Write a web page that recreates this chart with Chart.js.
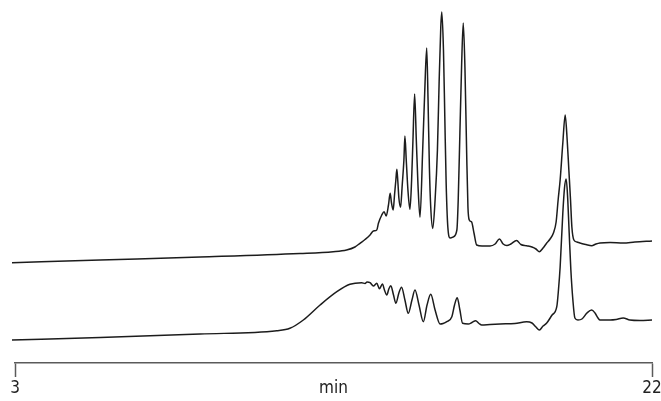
<!DOCTYPE html>
<html>
<head>
<meta charset="utf-8">
<script src="https://cdn.jsdelivr.net/npm/chart.js@4/dist/chart.umd.min.js"></script>
<style>
html,body{margin:0;padding:0;background:#fff;}
#wrap{width:661px;height:401px;position:relative;}
</style>
</head>
<body>
<div id="wrap"><canvas id="c"></canvas></div>
<script>
// Retention time (min) and detector signal (arbitrary units)
const topTime = [2.91,5.54,8.52,11.50,12.49,12.89,13.14,13.29,13.44,13.59,13.69,13.79,13.84,13.94,14.01,14.07,14.14,14.19,14.23,14.28,14.32,14.36,14.39,14.42,14.45,14.50,14.55,14.60,14.63,14.67,14.72,14.78,14.83,14.87,14.92,14.97,15.02,15.08,15.16,15.22,15.28,15.32,15.36,15.40,15.46,15.53,15.60,15.65,15.70,15.73,15.78,15.82,15.86,15.91,15.98,16.07,16.18,16.22,16.27,16.32,16.37,16.42,16.47,16.51,16.55,16.62,16.69,16.77,16.93,17.17,17.32,17.45,17.56,17.67,17.79,17.96,18.09,18.26,18.42,18.54,18.64,18.75,18.86,18.96,19.06,19.14,19.20,19.26,19.34,19.41,19.47,19.52,19.57,19.61,19.67,19.76,19.85,20.03,20.20,20.33,20.45,20.75,21.14,21.49,22.00];
const topSignal = [100.3,103,106,109.5,111.3,113,116,119.7,123.5,128,132,133,139.7,148,151.3,147,158,169.7,160,153,168,183,193.7,181,165,155.7,178,203,227,203,173,153.7,183,223,269,223,178,145.7,213,270,315,263,196,156,134.5,163,213,280,336,351,313,246,180,136,125,126,133,163,230,296,340,296,213,156,143,141,130,118,117,117,119,124,119,117.5,119,122.5,118.5,117.3,116,114,111.3,115,120,124,130,141,163,183,220,248,223,193,163,136,123,121,120,118.5,117.3,119,120,120.5,120,121,122];

const bottomTime = [2.91,5.54,8.52,10.81,11.20,11.60,12.10,12.60,12.99,13.34,13.44,13.50,13.59,13.69,13.79,13.87,13.96,14.02,14.09,14.15,14.21,14.29,14.36,14.45,14.53,14.63,14.73,14.84,14.93,15.05,15.18,15.29,15.40,15.53,15.68,15.77,15.88,16.03,16.11,16.19,16.27,16.35,16.52,16.63,16.74,16.84,16.92,17.17,17.47,17.91,18.26,18.42,18.54,18.64,18.75,18.86,19.02,19.16,19.21,19.26,19.34,19.39,19.44,19.48,19.53,19.58,19.64,19.70,19.79,19.91,20.06,20.20,20.30,20.39,20.45,20.75,20.93,21.14,21.34,21.64,22.00];
const bottomSignal = [23,25.5,29,32.3,34.7,43,58,71.3,78.7,80.3,79.5,81,80.3,77,79.7,74.3,79,73,68,74,77.3,68,59.7,70,75.7,63,49.7,63,73,58,41.3,58,68.7,53,39,39.5,41.3,46.3,58,65.3,53,39.7,39,40.5,42.3,39.5,38,38.5,39,39.5,41.3,40,36,33,37,40,48,56.3,73,96,150,175,184,168,130,93,63,45,43,44,50,53,50,45,43,43,43.5,45,43,42.5,43];

const axisTickValues = [3, 12.5, 22];
const axisTickLabels = ['3', 'min', '22'];

const toPoints = (xs, ys) => xs.map((x, i) => ({x: x, y: ys[i]}));
const FONT = "'Liberation Sans Narrow', 'Arial Narrow', 'DejaVu Sans Condensed', 'Roboto', sans-serif";

new Chart(document.getElementById('c'), {
  type: 'line',
  data: {
    datasets: [
      {data: toPoints(topTime, topSignal), borderColor: '#1c1c1c', borderWidth: 1.5, pointRadius: 0, cubicInterpolationMode: 'monotone', clip: false, fill: false},
      {data: toPoints(bottomTime, bottomSignal), borderColor: '#1c1c1c', borderWidth: 1.5, pointRadius: 0, cubicInterpolationMode: 'monotone', clip: false, fill: false}
    ]
  },
  options: {
    responsive: true,
    maintainAspectRatio: false,
    animation: false,
    events: [],
    layout: {padding: {top: 0, left: 15, right: 9, bottom: 0}},
    plugins: {legend: {display: false}, tooltip: {enabled: false}},
    scales: {
      x: {
        type: 'linear', min: 3, max: 22,
        afterBuildTicks: (s) => { s.ticks = axisTickValues.map(v => ({value: v})); },
        afterFit: (s) => { s.paddingLeft = 0; s.paddingRight = 0; },
        border: {display: true, color: '#5a5a5a', width: 1.5},
        grid: {
          drawOnChartArea: false, drawTicks: true, tickLength: 14, tickWidth: 1.5,
          tickColor: (ctx) => (ctx.tick && ctx.tick.value === 12.5) ? 'rgba(0,0,0,0)' : '#5a5a5a'
        },
        ticks: {
          autoSkip: false, maxRotation: 0, padding: 1.8, color: '#222',
          font: {family: FONT, size: 17},
          callback: (v) => { const i = axisTickValues.indexOf(v); return i >= 0 ? axisTickLabels[i] : ''; }
        }
      },
      y: {display: false, min: 0, max: 363}
    }
  }
});
</script>
</body>
</html>
